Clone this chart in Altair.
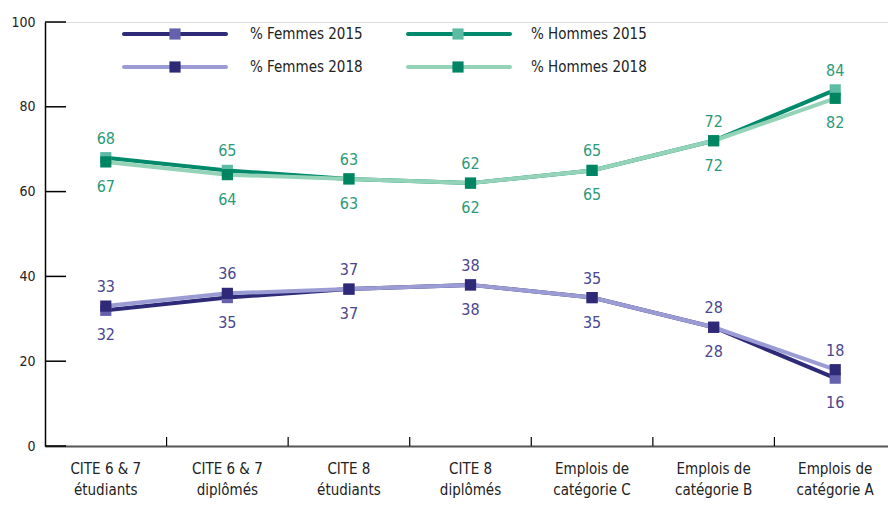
import altair as alt
import pandas as pd

# ---- data ----
categories = [
    ["CITE 6 & 7", "étudiants"],
    ["CITE 6 & 7", "diplômés"],
    ["CITE 8", "étudiants"],
    ["CITE 8", "diplômés"],
    ["Emplois de", "catégorie C"],
    ["Emplois de", "catégorie B"],
    ["Emplois de", "catégorie A"],
]
femmes_2015 = [32, 35, 37, 38, 35, 28, 16]
femmes_2018 = [33, 36, 37, 38, 35, 28, 18]
hommes_2015 = [68, 65, 63, 62, 65, 72, 84]
hommes_2018 = [67, 64, 63, 62, 65, 72, 82]
y_ticks = [0, 20, 40, 60, 80, 100]
series_names = ["% Femmes 2015", "% Femmes 2018", "% Hommes 2015", "% Hommes 2018"]

# ---- styles ----
FONT = "DejaVu Sans Condensed, Liberation Sans Narrow, Roboto, sans-serif"
line_colors = {"% Femmes 2015": "#2e2a78", "% Femmes 2018": "#9b9cd4",
               "% Hommes 2015": "#00896b", "% Hommes 2018": "#95d3b8"}
marker_colors = {"% Femmes 2015": "#6661ad", "% Femmes 2018": "#2e2a78",
                 "% Hommes 2015": "#5cbca3", "% Hommes 2018": "#008562"}
label_colors = {"F": "#4a4690", "H": "#2a9a78"}

cat_labels = ["|".join(c) for c in categories]
series_values = [femmes_2015, femmes_2018, hommes_2015, hommes_2018]

rows = []
for name, vals in zip(series_names, series_values):
    for c, v in zip(cat_labels, vals):
        rows.append({"cat": c, "series": name, "value": v})
df = pd.DataFrame(rows)

lab_rows = []
for sexe, a, b in [("F", femmes_2015, femmes_2018), ("H", hommes_2015, hommes_2018)]:
    for c, v1, v2 in zip(cat_labels, a, b):
        lab_rows.append({"cat": c, "sexe": sexe, "top": max(v1, v2), "bottom": min(v1, v2)})
df_lab = pd.DataFrame(lab_rows)

df_ticks = pd.DataFrame({"v": y_ticks})
df_xticks = pd.DataFrame({"cat": cat_labels[1:]})
one = pd.DataFrame({"a": [0]})

W, H = 843, 424
xscale = alt.Scale(type="band", domain=cat_labels, paddingInner=0, paddingOuter=0, range=[0, 851])
yscale = alt.Scale(domain=[0, 100], nice=False, zero=True)

xaxis = alt.Axis(title=None, labelExpr="split(datum.label, '|')", ticks=False,
                 domainColor="#555555", domainWidth=2, labelAngle=0, labelFont=FONT,
                 labelFontSize=15, labelColor="#222222", labelPadding=15,
                 labelLineHeight=21, grid=False, labelBaseline="top")
yaxis = alt.Axis(title=None, values=y_ticks, ticks=False, grid=False, domainColor="#000000",
                 domainWidth=1.5, labelPadding=10, labelFont=FONT, labelFontSize=14,
                 labelColor="#222222")

base = alt.Chart(df)
X = alt.X("cat:N", scale=xscale, axis=xaxis, sort=cat_labels)
Y = alt.Y("value:Q", scale=yscale, axis=yaxis)

layers = []
# y ticks pointing inward
layers.append(alt.Chart(df_ticks).mark_rule(color="#000000", strokeWidth=1.5).encode(
    y=alt.Y("v:Q", scale=yscale, axis=yaxis), x=alt.value(0), x2=alt.value(21)))
# x ticks at band boundaries, pointing upward
layers.append(alt.Chart(df_xticks).mark_rule(color="#000000", strokeWidth=1.2).encode(
    x=alt.X("cat:N", scale=xscale, axis=xaxis, bandPosition=0),
    y=alt.value(H - 9), y2=alt.value(H)))

for year in ["2015", "2018"]:
    for name in series_names:
        if name.endswith(year):
            layers.append(base.transform_filter(alt.datum.series == name).mark_line(
                color=line_colors[name], strokeWidth=4).encode(x=X, y=Y))
for year in ["2015", "2018"]:
    for name in series_names:
        if name.endswith(year):
            layers.append(base.transform_filter(alt.datum.series == name).mark_square(
                color=marker_colors[name], size=125, opacity=1).encode(x=X, y=Y))

for sexe in ["F", "H"]:
    lb = alt.Chart(df_lab).transform_filter(alt.datum.sexe == sexe)
    layers.append(lb.mark_text(color=label_colors[sexe], font=FONT, fontSize=16,
                               baseline="alphabetic", dy=-14).encode(
        x=X, y=alt.Y("top:Q", scale=yscale, axis=yaxis), text="top:Q"))
    layers.append(lb.mark_text(color=label_colors[sexe], font=FONT, fontSize=16,
                               baseline="alphabetic", dy=30).encode(
        x=X, y=alt.Y("bottom:Q", scale=yscale, axis=yaxis), text="bottom:Q"))

# manual legend
leg = [
    ("% Femmes 2015", 79, 181, 130, 205, 12),
    ("% Femmes 2018", 79, 181, 130, 205, 45),
    ("% Hommes 2015", 363, 465, 413, 486, 12),
    ("% Hommes 2018", 363, 465, 413, 486, 45),
]
lc = alt.Chart(one)
for name, x1, x2, xm, xt, yy in leg:
    layers.append(lc.mark_rule(color=line_colors[name], strokeWidth=4, strokeCap="round").encode(
        x=alt.value(x1), x2=alt.value(x2), y=alt.value(yy)))
    layers.append(lc.mark_square(color=marker_colors[name], size=125, opacity=1).encode(
        x=alt.value(xm), y=alt.value(yy)))
    layers.append(lc.mark_text(align="left", baseline="middle", font=FONT, fontSize=15,
                               color="#222222").encode(
        x=alt.value(xt), y=alt.value(yy), text=alt.value(name)))

chart = alt.layer(*layers).properties(
    width=W, height=H,
    autosize=alt.AutoSizeParams(type="none"),
    padding={"left": 37, "top": 14, "right": 0, "bottom": 58},
).configure_view(stroke=None).configure(font=FONT, background="white")

chart.save("out.html", embed_options={"renderer": "svg", "actions": False})
